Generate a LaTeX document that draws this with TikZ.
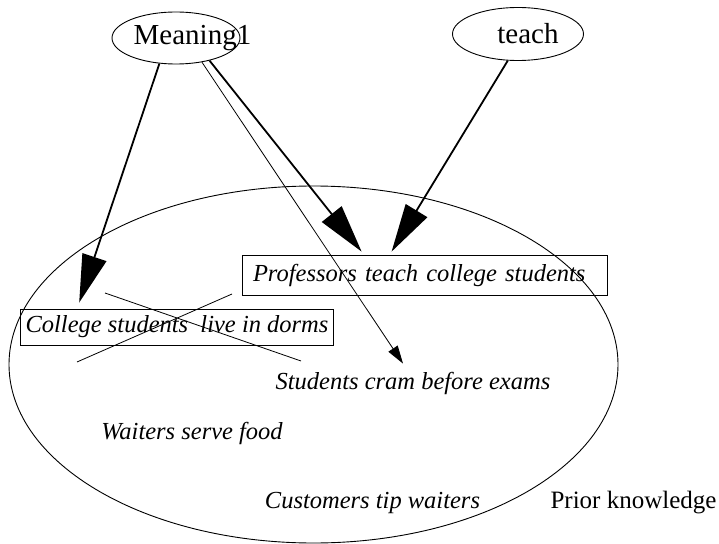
\documentclass[tikz,border=0pt]{standalone}
\usepackage{fontspec}
\setmainfont{Liberation Serif}
\usetikzlibrary{shapes.geometric,arrows.meta}

\begin{document}
\begin{tikzpicture}[x=1bp,y=-1bp,
  concept/.style={ellipse,draw,line width=0.9bp,inner sep=0pt},
  fact/.style={inner sep=0pt,font=\fontsize{24.5bp}{29bp}\selectfont\itshape},
  factbox/.style={fact,draw,line width=0.8bp,inner xsep=5bp},
  bigarrow/.style={line width=1.8bp,-{Triangle[length=48bp,width=25bp]}},
  thinarrow/.style={line width=0.8bp,-{Triangle[length=18bp,width=11bp]}}]

  \useasboundingbox (0,0) rectangle (719,544);

% PRIOR KNOWLEDGE
  \draw[line width=0.9bp] (313.5,364.5) ellipse [x radius=304.5, y radius=178.5];
  \node[inner sep=0pt,font=\fontsize{25bp}{30bp}\selectfont] (prior) at (633.5,503) {Prior knowledge};

% CONCEPTS
  \node[concept,minimum width=128bp,minimum height=52bp,
        label={[xshift=16.5bp,font=\fontsize{29bp}{34bp}\selectfont]center:Meaning1}] (meaning) at (176,38) {};
  \node[concept,minimum width=131bp,minimum height=53bp,
        label={[xshift=10bp,font=\fontsize{29bp}{34bp}\selectfont]center:teach}] (teach) at (518,34) {};

% FACTS
  \node[factbox,text width=343bp,inner xsep=11bp,align=left,minimum height=40bp] (prof) at (424.5,275) {Professors teach college students};
  \node[factbox,minimum width=312bp,minimum height=36bp] (college) at (177,327) {College students\ \ live in dorms};
  \node[fact] (cram) at (413,383) {Students cram before exams};
  \node[fact] (waiters) at (192,433) {Waiters serve food};
  \node[fact] (customers) at (372.5,503) {Customers tip waiters};

% crossed out
  \draw[line width=0.8bp] (105,293) -- (301,361);
  \draw[line width=0.8bp] (232,294) -- (77,362);

% ARROWS
  \draw[bigarrow] (meaning.237) -- ([xshift=59bp,yshift=6bp]college.north west);
  \draw[bigarrow] (meaning.-34) -- ([xshift=120bp,yshift=3bp]prof.north west);
  \draw[bigarrow] (teach.249) -- ([xshift=150bp,yshift=3bp]prof.north west);
  \draw[thinarrow] (meaning.-43) -- ([xshift=-10bp,yshift=8bp]cram.north);

\end{tikzpicture}
\end{document}
